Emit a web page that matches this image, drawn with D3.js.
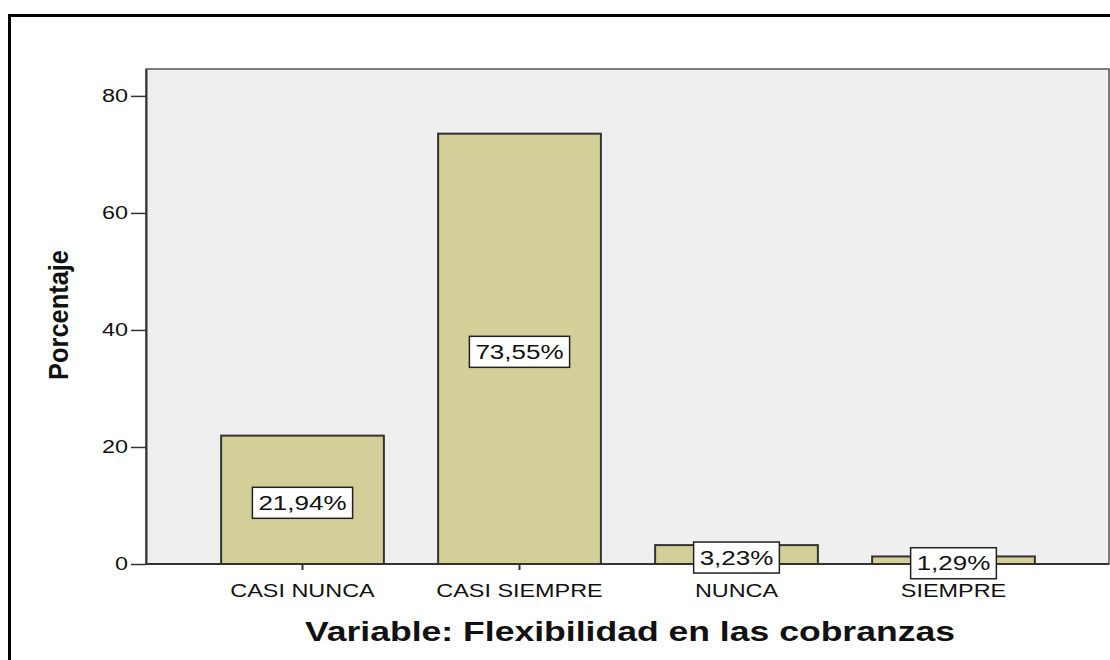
<!DOCTYPE html>
<html lang="es">
<head>
<meta charset="UTF-8">
<title>Flexibilidad en las cobranzas</title>
<script src="https://d3js.org/d3.v7.min.js"></script>
<style>
    body, html {
        margin: 0;
        padding: 0;
        background: #fff;
    }
    svg text { fill: #111; }
</style>
</head>
<body>
<div id="chart"></div>
<script>
    // data
    const categories = ["CASI NUNCA", "CASI SIEMPRE", "NUNCA", "SIEMPRE"];
    const percents = [21.94, 73.55, 3.23, 1.29];
    const labels = ["21,94%", "73,55%", "3,23%", "1,29%"];
    const yTicks = [0, 20, 40, 60, 80];

    const width = 1110, height = 660;
    const FONT = "'Liberation Sans', Arial, sans-serif";

    // the original picture is a bit wider than tall, so widen text to match
    function stretch(sel, k) {
        sel.each(function () {
            const len = this.getComputedTextLength();
            d3.select(this)
                .attr("textLength", len * k)
                .attr("lengthAdjust", "spacingAndGlyphs");
        });
    }

    const svg = d3.select("#chart")
        .append("svg")
        .attr("width", width)
        .attr("height", height);

    // outer frame (right side runs off the picture)
    svg.append("path")
        .attr("d", `M9.5,${height} V15.5 H${width}`)
        .attr("fill", "none")
        .attr("stroke", "#000")
        .attr("stroke-width", 3);

    const plot = { left: 146, right: 1109, top: 69, bottom: 564 };

    const y = d3.scaleLinear()
        .domain([0, 84.6])
        .range([plot.bottom, plot.top]);

    const x = d3.scaleBand()
        .domain(categories)
        .range([194, 1062])
        .paddingInner(0.25)
        .paddingOuter(0.125);

    // plot background
    svg.append("rect")
        .attr("x", plot.left)
        .attr("y", plot.top)
        .attr("width", plot.right - plot.left)
        .attr("height", plot.bottom - plot.top)
        .attr("fill", "#efefef")
        .attr("stroke", "#555")
        .attr("stroke-width", 1.5);

    // bars
    svg.append("g")
        .selectAll("rect")
        .data(percents)
        .enter().append("rect")
        .attr("x", (d, i) => x(categories[i]))
        .attr("y", d => y(d))
        .attr("width", x.bandwidth())
        .attr("height", d => plot.bottom - y(d))
        .attr("fill", "#d3cf98")
        .attr("stroke", "#333")
        .attr("stroke-width", 2);

    // y axis
    const yAxis = svg.append("g")
        .attr("transform", `translate(${plot.left},0)`)
        .call(d3.axisLeft(y).tickValues(yTicks).tickSize(15).tickSizeOuter(0).tickPadding(3));
    yAxis.select(".domain").attr("stroke", "#333").attr("stroke-width", 2);
    yAxis.selectAll(".tick line").attr("stroke", "#333").attr("stroke-width", 1.5);
    yAxis.selectAll("text")
        .style("font-family", FONT)
        .style("font-size", "18px")
        .attr("fill", "#222")
        .call(stretch, 1.3);

    // x axis
    const xAxis = svg.append("g")
        .attr("transform", `translate(0,${plot.bottom})`)
        .call(d3.axisBottom(x).tickSize(6).tickPadding(14));
    xAxis.select(".domain").remove();
    svg.append("line")
        .attr("x1", plot.left).attr("x2", plot.right)
        .attr("y1", plot.bottom).attr("y2", plot.bottom)
        .attr("stroke", "#333").attr("stroke-width", 2);
    xAxis.selectAll(".tick line").attr("stroke", "#333").attr("stroke-width", 2);
    xAxis.selectAll("text")
        .style("font-family", FONT)
        .style("font-size", "18px")
        .attr("fill", "#222")
        .call(stretch, 1.3);

    // value labels in boxes
    const lab = svg.append("g")
        .selectAll("g")
        .data(percents)
        .enter().append("g")
        .attr("transform", (d, i) =>
            `translate(${x(categories[i]) + x.bandwidth() / 2},${y(d / 2) + 3})`);

    lab.append("text")
        .attr("text-anchor", "middle")
        .attr("dy", "0.36em")
        .style("font-family", FONT)
        .style("font-size", "20px")
        .text((d, i) => labels[i])
        .call(stretch, 1.3);

    lab.each(function () {
        const g = d3.select(this);
        const w = g.select("text").node().getAttribute("textLength") * 1;
        g.insert("rect", "text")
            .attr("x", -w / 2 - 6)
            .attr("y", -15.5)
            .attr("width", w + 12)
            .attr("height", 31)
            .attr("fill", "#fff")
            .attr("stroke", "#222")
            .attr("stroke-width", 1.5);
    });

    // axis titles
    svg.append("text")
        .attr("x", 630)
        .attr("y", 641)
        .attr("text-anchor", "middle")
        .style("font-family", FONT)
        .style("font-weight", "bold")
        .style("font-size", "27px")
        .attr("textLength", 650)
        .attr("lengthAdjust", "spacingAndGlyphs")
        .text("Variable: Flexibilidad en las cobranzas");

    svg.append("text")
        .attr("transform", "translate(68,315) rotate(-90)")
        .attr("text-anchor", "middle")
        .style("font-family", FONT)
        .style("font-weight", "bold")
        .style("font-size", "27px")
        .attr("textLength", 130)
        .attr("lengthAdjust", "spacingAndGlyphs")
        .text("Porcentaje");
</script>
</body>
</html>
